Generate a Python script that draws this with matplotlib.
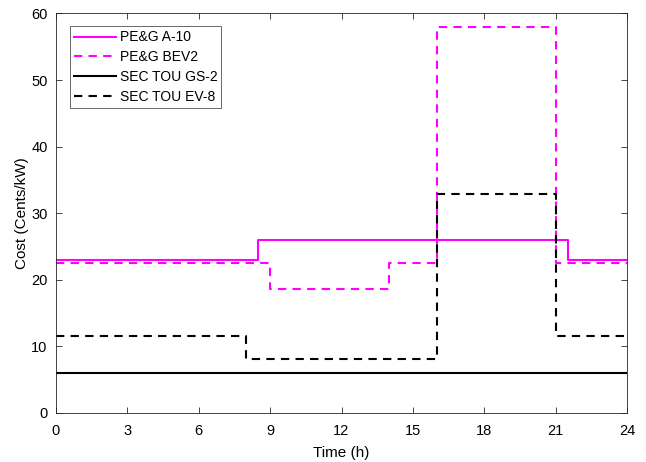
import matplotlib
matplotlib.use("Agg")
import matplotlib.pyplot as plt

plt.rcParams['font.family'] = ['Liberation Sans', 'DejaVu Sans']

# Step breakpoints (hour) and cost values (cents/kW)
a10_hours = [0, 8.5, 21.5, 24]
a10_cost = [23.0, 26.0, 23.0, 23.0]

bev2_hours = [0, 9, 14, 16, 21, 24]
bev2_cost = [22.5, 18.6, 22.5, 58.0, 22.5, 22.5]

gs2_hours = [0, 24]
gs2_cost = [6.0, 6.0]

ev8_hours = [0, 8, 16, 21, 24]
ev8_cost = [11.6, 8.0, 32.8, 11.6, 11.6]

labels = ['PE&G A-10', 'PE&G BEV2', 'SEC TOU GS-2', 'SEC TOU EV-8']
xticks = [0, 3, 6, 9, 12, 15, 18, 21, 24]
yticks = [0, 10, 20, 30, 40, 50, 60]

fig = plt.figure(figsize=(6.46, 4.62), dpi=100)
ax = fig.add_axes([56/646, 1-412.7/462, (627-56)/646, (412.7-13.5)/462])

mag = '#ff00ff'
ax.step(a10_hours, a10_cost, where='post', color=mag, lw=1.5, label=labels[0])
ax.step(bev2_hours, bev2_cost, where='post', color=mag, lw=1.5, ls=(0, (4, 3)), label=labels[1])
ax.step(gs2_hours, gs2_cost, where='post', color='black', lw=1.5, label=labels[2])
ax.step(ev8_hours, ev8_cost, where='post', color='black', lw=1.5, ls=(0, (4, 3)), label=labels[3])

ax.set_xlim(0, 24)
ax.set_ylim(0, 60)
ax.set_xticks(xticks)
ax.set_yticks(yticks)
ax.tick_params(direction='in', top=True, right=True, length=4, width=0.6,
               colors='#262626', labelsize=10.5, labelcolor='black')
ax.tick_params(axis='x', pad=8)
ax.tick_params(axis='y', pad=6)
for s in ax.spines.values():
    s.set_color('#262626')
    s.set_linewidth(0.6)
ax.set_xlabel('Time (h)', fontsize=11, labelpad=6)
ax.set_ylabel('Cost (Cents/kW)', fontsize=11, labelpad=2)

leg = ax.legend(loc='upper left', bbox_to_anchor=(0.025, 0.968), fontsize=10,
                frameon=True, fancybox=False, edgecolor='#262626',
                handlelength=3.0, handletextpad=0.25, borderpad=0.3,
                labelspacing=0.42, borderaxespad=0)
leg.get_frame().set_linewidth(0.6)

fig.savefig('out.png', dpi=100)
